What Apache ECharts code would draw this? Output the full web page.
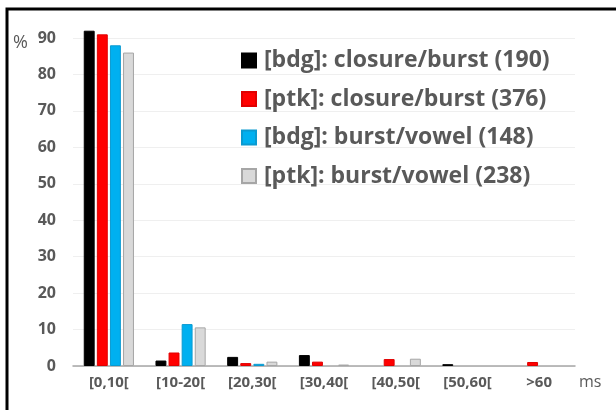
<!DOCTYPE html>
<html>
<head>
<meta charset="utf-8">
<script src="https://cdn.jsdelivr.net/npm/echarts@6/dist/echarts.min.js"></script>
<style>
  html, body { margin: 0; padding: 0; background: #fff; }
  #chart { width: 616px; height: 410px; }
</style>
</head>
<body>
<div id="chart"></div>
<script>
// categories (ms bins)
const bins = ["[0,10[", "[10-20[", "[20,30[", "[30,40[", "[40,50[", "[50,60[", ">60"];

// percentages per bin (null = no bar)
const bdgClosure = [92, 1.5, 2.5, 3.0, null, 0.5, null];
const ptkClosure = [91, 3.7, 0.8, 1.2, 1.9, null, 1.1];
const bdgBurst = [88, 11.5, 0.6, null, null, null, null];
const ptkBurst = [86, 10.6, 1.2, 0.4, 2.0, null, null];

const seriesNames = [
  "[bdg]: closure/burst (190)",
  "[ptk]: closure/burst (376)",
  "[bdg]: burst/vowel (148)",
  "[ptk]: burst/vowel (238)"
];

const textGray = "#595959";

const chart = echarts.init(document.getElementById("chart"));

function bar(name, data, color, border) {
  return {
    name: name,
    type: "bar",
    data: data,
    clip: false,
    barGap: "20%",
    barCategoryGap: "30%",
    itemStyle: { color: color, borderColor: border, borderWidth: 1 }
  };
}

chart.setOption({
  animation: false,
  textStyle: { fontFamily: "Open Sans" },
  grid: { left: 73, right: 41, top: 38, bottom: 44 },
  legend: {
    orient: "vertical",
    left: 241,
    top: 49,
    padding: 0,
    itemWidth: 14,
    itemHeight: 14,
    itemGap: 15.5,
    icon: "rect",
    textStyle: { color: textGray, fontSize: 23, fontWeight: "bold", lineHeight: 21, padding: [0, 0, 0, 3] }
  },
  xAxis: {
    type: "category",
    data: bins,
    name: "ms",
    nameLocation: "end",
    nameGap: 4,
    nameTextStyle: { color: textGray, fontSize: 16, verticalAlign: "top", padding: [8, 0, 0, 0] },
    axisTick: { show: false },
    axisLine: { lineStyle: { color: "#a6a6a6", width: 1.5 } },
    axisLabel: { color: textGray, fontSize: 15, fontWeight: "bold", margin: 9 }
  },
  yAxis: {
    type: "value",
    min: 0,
    max: 90,
    interval: 10,
    axisLabel: { color: textGray, fontSize: 16, fontWeight: "bold", margin: 17 },
    splitLine: { lineStyle: { color: "#efefef", width: 1 } }
  },
  graphic: [
    {
      type: "polyline",
      shape: { points: [[7, 410], [7, 9], [616, 9]] },
      style: { stroke: "#000", lineWidth: 3, fill: null }
    },
    {
      type: "text",
      left: 13,
      top: 34,
      style: { text: "%", fill: textGray, fontSize: 18, fontFamily: "Open Sans" }
    }
  ],
  series: [
    bar(seriesNames[0], bdgClosure, "#000000", "#000000"),
    bar(seriesNames[1], ptkClosure, "#ff0000", "#e00000"),
    bar(seriesNames[2], bdgBurst, "#00b0f0", "#0a9ad0"),
    bar(seriesNames[3], ptkBurst, "#d9d9d9", "#a6a6a6")
  ]
});
</script>
</body>
</html>
